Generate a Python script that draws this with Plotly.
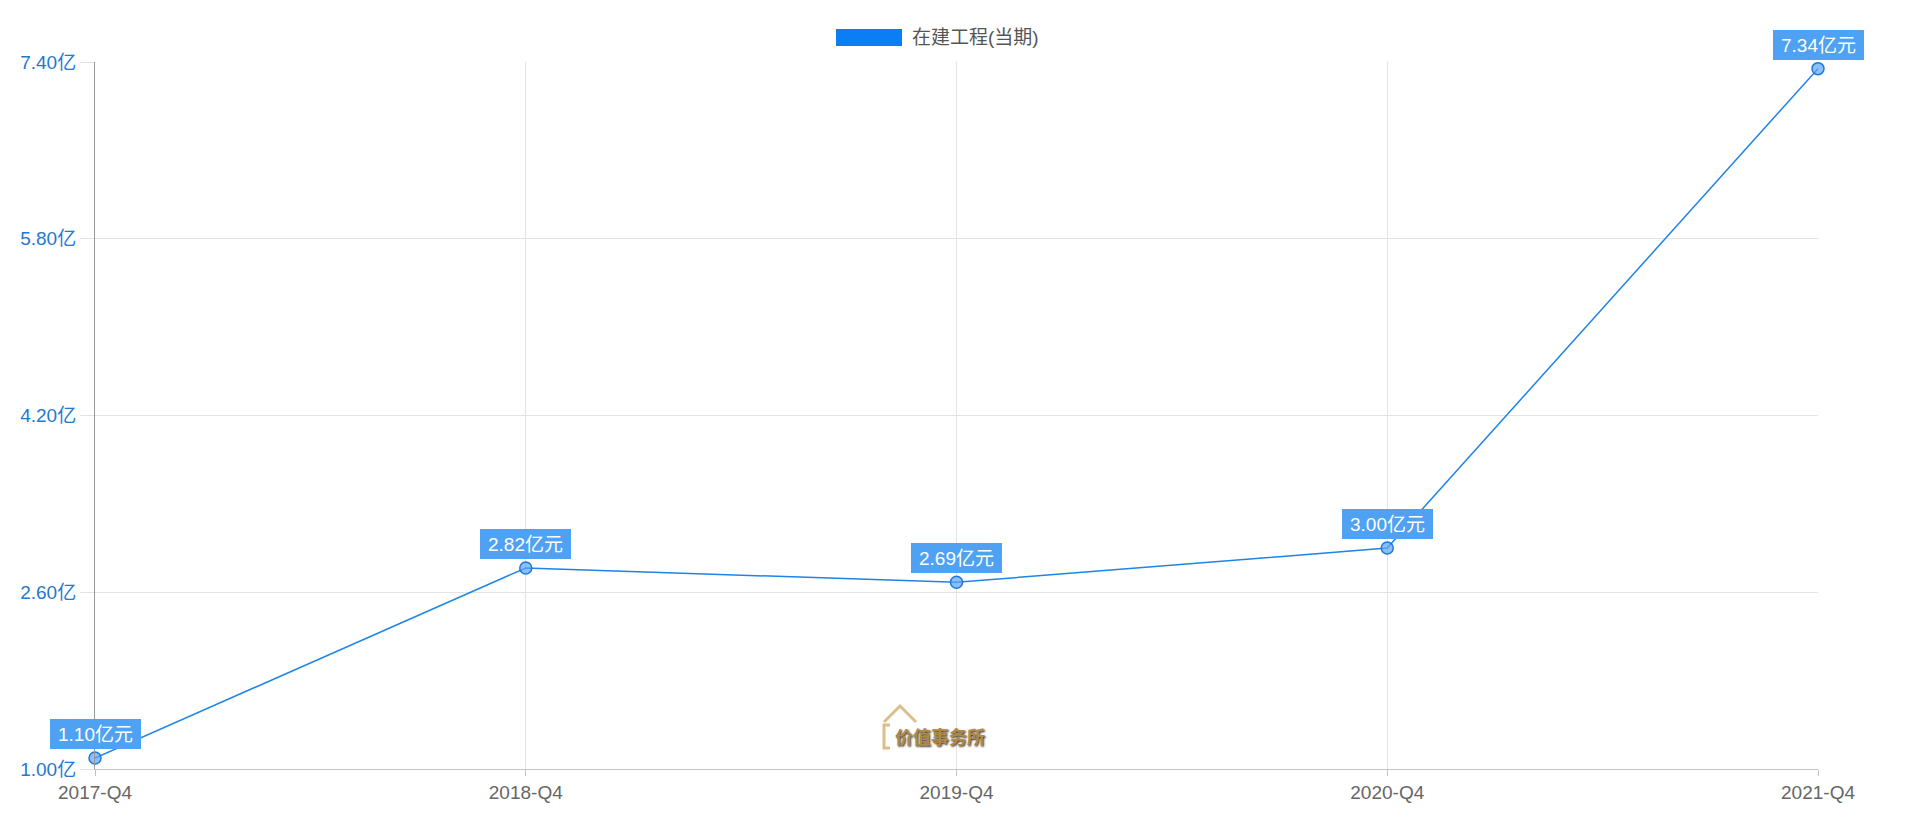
import plotly.graph_objects as go

categories = ["2017-Q4", "2018-Q4", "2019-Q4", "2020-Q4", "2021-Q4"]
values = [1.10, 2.82, 2.69, 3.00, 7.34]
series_name = "在建工程(当期)"
ytick_vals = [1.00, 2.60, 4.20, 5.80, 7.40]
ytick_text = [f"{v:.2f}亿" for v in ytick_vals]
point_labels = [f"{v:.2f}亿元" for v in values]

OFF = 8  # default body margin of the page
W, H = 1920 - OFF, 828 - OFF
L, R, T, B = 95 - OFF, 102, 62 - OFF, 59
pw, ph = W - L - R, H - T - B

def px_x(p):
    return (p - OFF - L) / pw

def px_y(p):
    return (OFF + T + ph - p) / ph

FONT = "Liberation Sans, Noto Sans CJK SC, sans-serif"

fig = go.Figure()
fig.add_trace(go.Scatter(
    x=categories, y=values, mode="lines+markers", name=series_name,
    line=dict(color="#1e84e6", width=1.5),
    marker=dict(size=12, color="rgba(90,165,245,0.7)", line=dict(color="#1e78dc", width=1.5)),
    showlegend=False, cliponaxis=False,
))

annotations = []
for c, v, t in zip(categories, values, point_labels):
    annotations.append(dict(
        x=c, y=v, xref="x", yref="y", text=t, showarrow=False, yshift=24,
        font=dict(family=FONT, size=19, color="white"),
        width=89, height=28, align="center", valign="middle",
        bgcolor="#4ea1f3", borderpad=0, bordercolor="#4ea1f3", borderwidth=1,
    ))

# legend (manual)
annotations.append(dict(
    x=px_x(910), y=px_y(38), xref="paper", yref="paper", text=series_name,
    showarrow=False, xanchor="left", yanchor="middle",
    font=dict(family=FONT, size=19, color="#555"),
))
# watermark
annotations.append(dict(
    x=px_x(940), y=px_y(736), xref="paper", yref="paper", text="<b>价值事务所</b>",
    showarrow=False, xanchor="center", yanchor="middle",
    font=dict(family="Noto Sans CJK SC", size=18, color="#b08a48", shadow="1px 1px 2px #2a2a2a"),
))

shapes = [
    dict(type="rect", xref="paper", yref="paper", x0=px_x(836), x1=px_x(902),
         y0=px_y(46), y1=px_y(29), fillcolor="#0a7ef5", line=dict(width=0)),
    # watermark house outline
    dict(type="path", xref="paper", yref="paper",
         path=f"M {px_x(890)},{px_y(725)} L {px_x(884)},{px_y(725)} L {px_x(884)},{px_y(748)} "
              f"L {px_x(890)},{px_y(748)} M {px_x(884)},{px_y(722)} L {px_x(900)},{px_y(706)} "
              f"L {px_x(916)},{px_y(722)}",
         line=dict(color="#d9c08a", width=3)),
]

fig.update_layout(
    width=W, height=H,
    margin=dict(l=L, r=R, t=T, b=B, autoexpand=False),
    paper_bgcolor="white", plot_bgcolor="white",
    font=dict(family=FONT),
    annotations=annotations, shapes=shapes,
    showlegend=False,
)
fig.update_xaxes(
    type="category", range=[0, len(categories) - 1],
    showgrid=True, gridcolor="#e3e3e3", gridwidth=1,
    showline=True, linecolor="#c4c4c4", linewidth=1,
    ticks="outside", ticklen=6, tickcolor="#c4c4c4",
    tickfont=dict(family=FONT, size=19, color="#666"),
    zeroline=False,
)
fig.update_yaxes(
    range=[ytick_vals[0], ytick_vals[-1]], tickvals=ytick_vals, ticktext=ytick_text,
    showgrid=True, gridcolor="#e3e3e3", gridwidth=1,
    showline=True, linecolor="#999999", linewidth=1,
    ticks="outside", ticklen=14, tickcolor="#e3e3e3",
    tickfont=dict(family=FONT, size=19, color="#1f78d1"),
    zeroline=False,
)

fig.write_html("out.html")
